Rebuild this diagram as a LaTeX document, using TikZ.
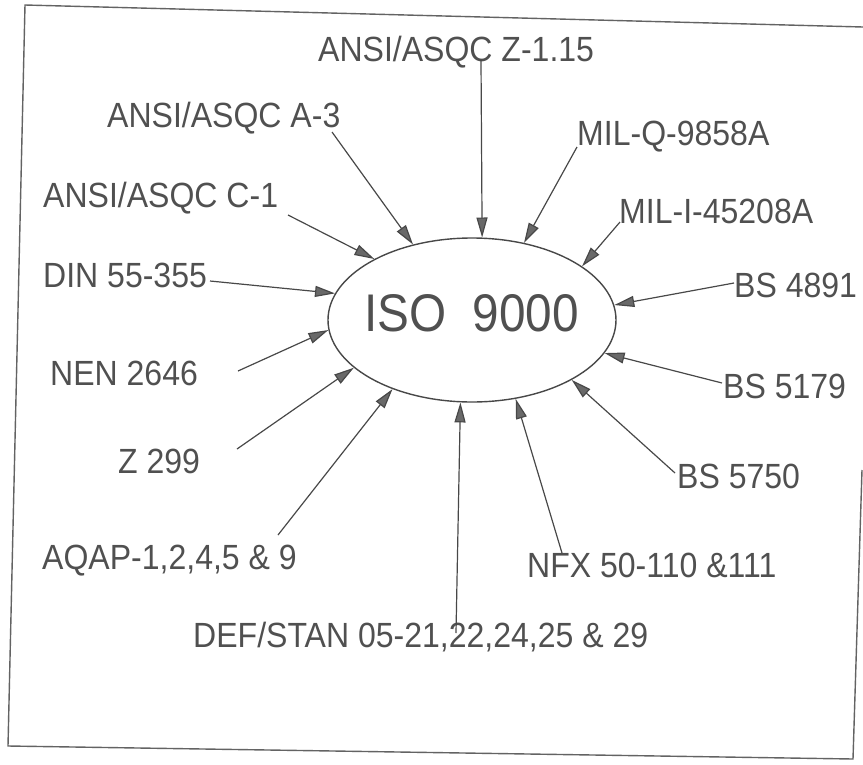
\documentclass[tikz,border=0pt]{standalone}
\usepackage{fontspec}
\newfontfamily\labfont[FakeStretch=0.915]{Liberation Sans}
\newfontfamily\isofont[FakeStretch=0.90]{Liberation Sans}
\usetikzlibrary{shapes.geometric,arrows.meta}
\definecolor{ink}{RGB}{72,72,72}
\definecolor{txt}{RGB}{80,80,80}
\definecolor{tipfill}{RGB}{105,105,105}
\begin{document}
\begin{tikzpicture}[x=1pt,y=-1pt,
  lab/.style={font=\labfont\fontsize{35}{39}\selectfont, text=txt, inner sep=0pt, anchor=base west},
  feed/.style={draw=ink, line width=1.2pt, -{Triangle[length=20pt,width=11pt,fill=tipfill]}},
  frameline/.style={draw=ink!85, line width=1.4pt}]
\useasboundingbox (0,0) rectangle (863,764);
% frame (scanned, slightly skewed)
\draw[frameline] (863,27) -- (25,5) -- (8,746) -- (853,759) -- (862,470);
% centre
\node[draw=ink, line width=1.4pt, ellipse, minimum width=288pt, minimum height=164pt, inner sep=0pt] (iso) at (472,320) {};
\node[font=\isofont\fontsize{53}{57}\selectfont, text=txt, inner sep=0pt, anchor=base west] (isotxt) at (364,331) {ISO~~9000};
% labels
\node[lab] (z115) at (318,61) {ANSI/ASQC Z-1.15};
\node[lab] (a3) at (107,127) {ANSI/ASQC A-3};
\node[lab] (milq) at (577,145) {MIL-Q-9858A};
\node[lab] (c1) at (43,207) {ANSI/ASQC C-1};
\node[lab] (mili) at (619,223) {MIL-I-45208A};
\node[lab] (din) at (43,287) {DIN 55-355};
\node[lab] (bs4891) at (734,297) {BS 4891};
\node[lab] (nen) at (50,385) {NEN 2646};
\node[lab] (bs5179) at (723,398) {BS 5179};
\node[lab] (z299) at (118,473) {Z 299};
\node[lab] (bs5750) at (677,488) {BS 5750};
\node[lab] (aqap) at (42,569) {AQAP-1,2,4,5 \& 9};
\node[lab] (nfx) at (527,577) {NFX 50-110 \&111};
\node[lab] (def) at (193,647) {DEF/STAN 05-21,22,24,25 \& 29};
% arrow start points
\coordinate (sz115) at (481,60);
\coordinate (sa3) at (332,132);
\coordinate (smilq) at (577,147);
\coordinate (sc1) at (288,215);
\coordinate (smili) at (620,222);
\coordinate (sdin) at (210,281);
\coordinate (sbs4891) at (734,283);
\coordinate (snen) at (238,371);
\coordinate (sbs5179) at (722,383);
\coordinate (sz299) at (237,449);
\coordinate (saqap) at (278,535);
\coordinate (sdef) at (456,633);
\coordinate (snfx) at (562,553);
\coordinate (sbs5750) at (675,473);
% connectors
\draw[feed] (sz115) -- (iso.83.7);
\draw[feed] (sa3) -- (iso.128.7);
\draw[feed] (smilq) -- (iso.56.1);
\draw[feed] (sc1) -- (iso.148.1);
\draw[feed] (smili) -- (iso.26.6);
\draw[feed] (sdin) -- (iso.169.9);
\draw[feed] (sbs4891) -- (iso.6.8);
\draw[feed] (snen) -- (iso.184.8);
\draw[feed] (sbs5179) -- (iso.346.1);
\draw[feed] (sz299) -- (iso.202.8);
\draw[feed] (saqap) -- (iso.221.3);
\draw[feed] (sdef) -- (iso.262.3);
\draw[feed] (snfx) -- (iso.299.2);
\draw[feed] (sbs5750) -- (iso.329.4);
\end{tikzpicture}
\end{document}
